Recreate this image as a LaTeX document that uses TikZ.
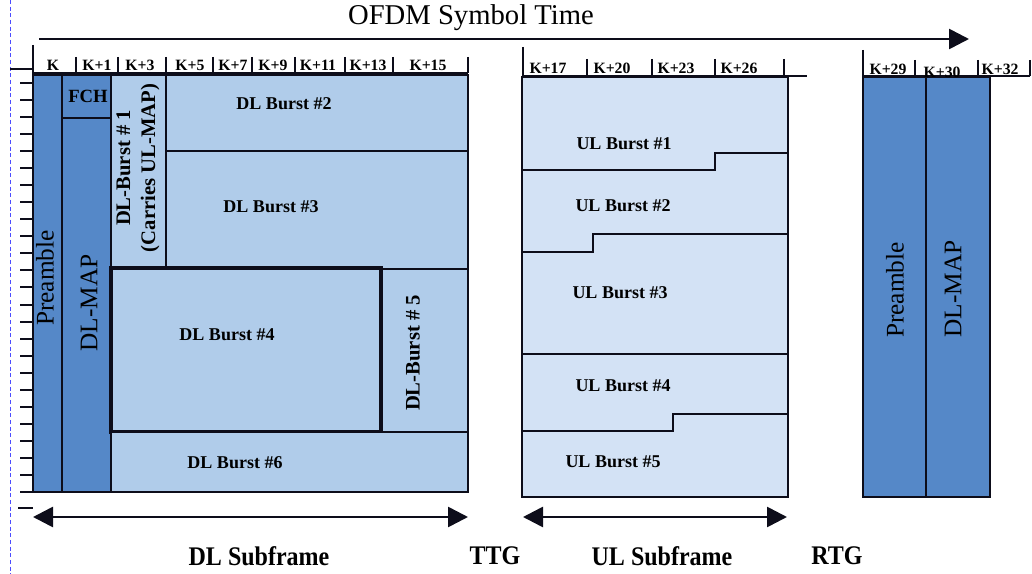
\documentclass[tikz,border=0pt]{standalone}
\usepackage{fontspec}
\setmainfont{Liberation Serif}
\usetikzlibrary{arrows.meta, positioning}
\definecolor{mapblue}{HTML}{5588C8}
\definecolor{dlblue}{HTML}{B0CCEA}
\definecolor{ulblue}{HTML}{D3E2F5}
\definecolor{ink}{HTML}{0D0D1A}

\begin{document}
\begin{tikzpicture}[
  x=0.75pt, y=-0.75pt,
  mapbox/.style={fill=mapblue, draw=ink, line width=2.1pt},
  dlbox/.style={fill=dlblue, draw=ink, line width=2.1pt},
  ulbox/.style={fill=ulblue, draw=ink, line width=1.5pt},
  axis/.style={draw=ink, line width=1.5pt},
  slot/.style={font=\bfseries\fontsize{11.8}{12}\selectfont, inner sep=0pt},
  burst/.style={font=\bfseries\fontsize{13.5}{15}\selectfont, inner sep=0pt},
  vburst/.style={font=\bfseries\fontsize{15.5}{18.75}\selectfont, rotate=90, align=center, inner sep=0pt},
  field/.style={font=\fontsize{19}{22}\selectfont, rotate=90, inner sep=0pt},
  frame/.style={font=\bfseries\fontsize{18}{20}\selectfont, inner sep=0pt, yscale=1.12},
  span/.style={{Triangle[length=15pt, width=15pt]}-{Triangle[length=15pt, width=15pt]}, draw=ink, line width=2pt}
]
\useasboundingbox (0,0) rectangle (1032,574);
\draw[blue!70, densely dashed, line width=0.4pt] (10,0) -- (10,574);

\node[font=\fontsize{21.5}{24}\selectfont, inner sep=0pt] (title) at (471,18) {OFDM Symbol Time};
\coordinate (tstart) at (39,39);
\coordinate (tend) at (969,39);
\draw[-{Triangle[length=15pt, width=15pt]}, draw=ink, line width=2pt] (tstart) -- (tend);

\path[mapbox] (33,75) rectangle (62,492);
\path[mapbox] (62,118) rectangle (111,492);
\path[mapbox] (62,75) rectangle (111,118);
\path[dlbox] (111,75) rectangle (166,268);
\path[dlbox] (166,75) rectangle (468,151);
\path[dlbox] (166,151) rectangle (468,269);
\path[dlbox] (381,269) rectangle (468,432);
\path[dlbox, line width=2.8pt] (111,268) rectangle (381,432);
\path[dlbox] (111,432) rectangle (468,492);

\draw[axis] (33,45) -- (33,73) -- (468,73);
\draw[axis] (10,69) -- (33,69);
\foreach \xx in {76,118,166,213,252,295,345,393,468}
  \draw[axis] (\xx,57) -- (\xx,73);
\foreach \i in {0,...,24}
  \draw[axis] (20,83+\i*17.04) -- (33,83+\i*17.04);
\draw[axis] (18,508) -- (33,508);
\foreach \xx/\lbl [count=\i] in {53/K, 97/K+1, 140/K+3, 190/K+5, 233/K+7, 273/K+9, 318/K+11, 368/K+13, 428/K+15}
  \node[slot] (dk\i) at (\xx,65) {\lbl};

\node[field] (preL) at (45,278) {Preamble};
\node[field] (mapL) at (89,303) {DL-MAP};
\node[font=\bfseries\fontsize{14}{16}\selectfont, inner sep=0pt] (fch) at (88,96) {FCH};
\node[vburst] (dlb1) at (138,168) {DL-Burst \# 1\\(Carries UL-MAP)};
\node[burst] (dlb2) at (284,104) {DL Burst \#2};
\node[burst] (dlb3) at (271,207) {DL Burst \#3};
\node[burst] (dlb4) at (227,335) {DL Burst \#4};
\node[vburst] (dlb5) at (413,353) {DL-Burst \# 5};
\node[burst] (dlb6) at (235,463) {DL Burst \#6};

\path[ulbox] (522,77) rectangle (788,497);
\draw[ulbox, fill=none] (522,170) -- (715,170) -- (715,153) -- (788,153);
\draw[ulbox, fill=none] (522,252) -- (593,252) -- (593,234) -- (788,234);
\draw[ulbox, fill=none] (522,354) -- (788,354);
\draw[ulbox, fill=none] (522,431) -- (673,431) -- (673,414) -- (788,414);
\draw[axis] (523,47) -- (523,76) -- (807,76);
\foreach \xx in {587,652,715,784}
  \draw[axis] (\xx,59) -- (\xx,76);
\foreach \xx/\lbl [count=\i] in {548/K+17, 612/K+20, 676/K+23, 739/K+26}
  \node[slot] (uk\i) at (\xx,68) {\lbl};

\node[burst] (ulb1) at (624,144) {UL Burst \#1};
\node[burst] (ulb2) at (623,206) {UL Burst \#2};
\node[burst] (ulb3) at (620,293) {UL Burst \#3};
\node[burst] (ulb4) at (623,386) {UL Burst \#4};
\node[burst] (ulb5) at (613,462) {UL Burst \#5};

\path[mapbox, line width=1.5pt] (863,77) rectangle (926,497);
\path[mapbox, line width=1.5pt] (926,77) rectangle (990,497);
\draw[axis] (863,50) -- (863,76) -- (1030,76);
\foreach \xx in {915,978,1030}
  \draw[axis] (\xx,60) -- (\xx,76);
\node[slot] (rk1) at (888,69) {K+29};
\node[slot] (rk2) at (942,72) {K+30};
\node[slot] (rk3) at (1000,69) {K+32};
\node[field] (preR) at (895,290) {Preamble};
\node[field] (mapR) at (953,289) {DL-MAP};

\coordinate (dlL) at (33,517);
\coordinate (dlR) at (468,517);
\coordinate (ulL) at (523,517);
\coordinate (ulR) at (787,517);
\draw[span] (dlL) -- (dlR);
\draw[span] (ulL) -- (ulR);

\node[frame] (dlsub) at (259,556) {DL Subframe};
\node[frame] (ttg) at (495,556) {TTG};
\node[frame] (ulsub) at (662,556) {UL Subframe};
\node[frame] (rtg) at (837,556) {RTG};
\end{tikzpicture}
\end{document}
